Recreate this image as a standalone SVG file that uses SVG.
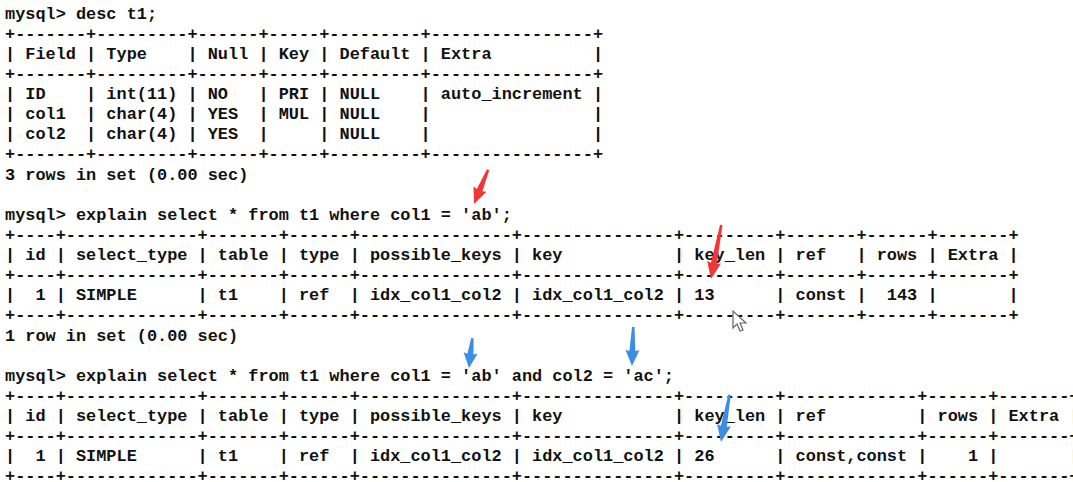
<svg xmlns="http://www.w3.org/2000/svg" width="1073" height="482" viewBox="0 0 1073 482">
<style>
text{font-family:"Liberation Mono","DejaVu Sans Mono",monospace;font-size:16.9px;font-weight:bold;fill:#111;white-space:pre}
.r{fill:#f23535}.b{fill:#3b8fe2}
</style>
<rect width="1073" height="482" fill="#fff"/>
<g id="terminal" xml:space="preserve">
<text x="5" y="19">mysql&gt; desc t1;</text>
<text x="5" y="39">+-------+---------+------+-----+---------+----------------+</text>
<text x="5" y="59">| Field | Type    | Null | Key | Default | Extra          |</text>
<text x="5" y="79">+-------+---------+------+-----+---------+----------------+</text>
<text x="5" y="99">| ID    | int(11) | NO   | PRI | NULL    | auto_increment |</text>
<text x="5" y="119">| col1  | char(4) | YES  | MUL | NULL    |                |</text>
<text x="5" y="139">| col2  | char(4) | YES  |     | NULL    |                |</text>
<text x="5" y="159">+-------+---------+------+-----+---------+----------------+</text>
<text x="5" y="180">3 rows in set (0.00 sec)</text>
<text x="5" y="220">mysql&gt; explain select * from t1 where col1 = 'ab';</text>
<text x="5" y="240">+----+-------------+-------+------+---------------+---------------+---------+-------+------+-------+</text>
<text x="5" y="260">| id | select_type | table | type | possible_keys | key           | key_len | ref   | rows | Extra |</text>
<text x="5" y="280">+----+-------------+-------+------+---------------+---------------+---------+-------+------+-------+</text>
<text x="5" y="300">|  1 | SIMPLE      | t1    | ref  | idx_col1_col2 | idx_col1_col2 | 13      | const |  143 |       |</text>
<text x="5" y="320">+----+-------------+-------+------+---------------+---------------+---------+-------+------+-------+</text>
<text x="5" y="341">1 row in set (0.00 sec)</text>
<text x="5" y="381">mysql&gt; explain select * from t1 where col1 = 'ab' and col2 = 'ac';</text>
<text x="5" y="401">+----+-------------+-------+------+---------------+---------------+---------+-------------+------+-------+</text>
<text x="5" y="421">| id | select_type | table | type | possible_keys | key           | key_len | ref         | rows | Extra |</text>
<text x="5" y="441">+----+-------------+-------+------+---------------+---------------+---------+-------------+------+-------+</text>
<text x="5" y="461">|  1 | SIMPLE      | t1    | ref  | idx_col1_col2 | idx_col1_col2 | 26      | const,const |    1 |       |</text>
<text x="5" y="481">+----+-------------+-------+------+---------------+---------------+---------+-------------+------+-------+</text>
</g>
<g id="arrows">
<polygon class="r" transform="translate(474,204) rotate(22)" points="-1,-37 1.5,-37 3,-15 7,-16 0,0 -7,-16 -3,-15"/>
<polygon class="r" transform="translate(711,279) rotate(10.5)" points="-1,-55 1.5,-55 3,-16 7,-17 0,0 -7,-17 -3,-16"/>
<polygon class="b" transform="translate(469,368) rotate(6)" points="-1,-30 1.5,-30 3,-14 7,-15 0,0 -7,-15 -3,-14"/>
<polygon class="b" transform="translate(632,366) rotate(1.5)" points="-1,-39 1.5,-39 3,-15 7,-16 0,0 -7,-16 -3,-15"/>
<polygon class="b" transform="translate(721,442) rotate(10)" points="-1,-48 1.5,-48 3,-16 7,-17 0,0 -7,-17 -3,-16"/>
<polygon fill="#fff" stroke="#666" stroke-width="1.2" points="733,311 733,328 737,324 740,331 743,330 740,323 746,323"/>
</g>
</svg>
